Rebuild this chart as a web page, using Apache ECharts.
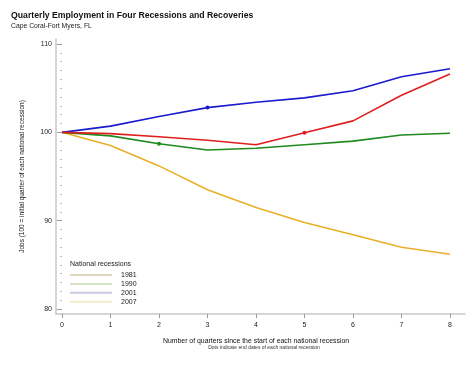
<!DOCTYPE html>
<html><head><meta charset="utf-8">
<script src="https://cdn.jsdelivr.net/npm/echarts@6/dist/echarts.min.js"></script>
<style>html,body{margin:0;padding:0;background:#fff}#c{width:475px;height:367px}</style>
</head><body><div id="c"></div>
<script>
var quarters = [0,1,2,3,4,5,6,7,8];
var seriesNames = ['1981','1990','2001','2007'];
var s1981 = [100, 98.5, 96.2, 93.5, 91.5, 89.8, 88.4, 87.0, 86.2];
var s1990 = [100, 99.6, 98.7, 98.0, 98.2, 98.6, 99.0, 99.7, 99.9];
var s2001 = [100, 100.7, 101.8, 102.8, 103.4, 103.9, 104.7, 106.3, 107.2];
var s2007 = [100, 99.85, 99.5, 99.1, 98.6, 99.95, 101.3, 104.2, 106.6];
var endQuarter = [null, 2, 3, 5];
var yTicks = [80, 90, 100, 110];
var xTicks = [0,1,2,3,4,5,6,7,8];

var lineColors = ['#e8b028', '#1f8a1f', '#1a1ad0', '#e01e1e'];
var legendColors = ['#ddd5bd', '#d5e2c6', '#c9c9df', '#f1ecc9'];
var allVals = [s1981, s1990, s2001, s2007];
var font = 'Liberation Sans, Arial, sans-serif';

var series = allVals.map(function(vals, k){
  return {
    name: seriesNames[k], type: 'line', xAxisIndex: 0, yAxisIndex: 0,
    data: vals.map(function(v,i){
      var item = {value:[quarters[i], v]};
      if (endQuarter[k] === quarters[i]) { item.symbol='circle'; item.symbolSize=4; }
      else { item.symbol='none'; }
      return item;
    }),
    lineStyle: {color: lineColors[k], width: 1.6},
    itemStyle: {color: lineColors[k]},
    showSymbol: true, silent: true, animation: false, z: 3 + k
  };
});
series.push({type:'line', xAxisIndex:1, yAxisIndex:1, data:[], silent:true});

var chart = echarts.init(document.getElementById('c'), null, {renderer:'canvas'});
chart.setOption({
  animation: false,
  backgroundColor: '#fff',
  title: [
    {text: 'Quarterly Employment in Four Recessions and Recoveries', left: 6, top: 6,
     textStyle:{fontFamily:font, fontSize:8.7, fontWeight:'bold', color:'#111'}},
    {text: 'Cape Coral-Fort Myers, FL', left: 6, top: 17.5,
     textStyle:{fontFamily:font, fontSize:6.8, fontWeight:'normal', color:'#222'}},
    {text: 'National recessions', left: 65, top: 256,
     textStyle:{fontFamily:font, fontSize:7, fontWeight:'normal', color:'#222'}},
    {text: 'Dots indicate end dates of each national recession', left: 259, top: 340.5, textAlign:'center',
     textStyle:{fontFamily:font, fontSize:5, fontWeight:'normal', color:'#333'}}
  ],
  legend: {
    orient: 'vertical', left: 70, top: 271, padding: 0, itemGap: 0.9, itemWidth: 42, itemHeight: 2,
    icon: 'rect',
    textStyle: {fontFamily: font, fontSize: 7, lineHeight: 8, color: '#222', padding:[0,0,0,4]},
    data: seriesNames.map(function(n,k){ return {name:n, icon:'rect', itemStyle:{color:legendColors[k]}}; })
  },
  grid: [
    {left: 62, right: 25, top: 44, bottom: 58},
    {left: 56, right: 10, top: 39, bottom: 53}
  ],
  xAxis: [
    {type:'value', gridIndex:0, min:0, max:8, interval:1,
     axisLine:{show:false}, axisTick:{show:true, length:4, lineStyle:{color:'#999'}},
     offset: 5,
     axisLabel:{fontFamily:font, fontSize:7, color:'#222', margin:8},
     splitLine:{show:false},
     name:'Number of quarters since the start of each national recession', nameLocation:'middle', nameGap:24,
     nameTextStyle:{fontFamily:font, fontSize:6.9, color:'#111'}},
    {type:'value', gridIndex:1, min:0, max:1, axisLine:{show:true, lineStyle:{color:'#c8c8c8', width:1.5}},
     axisTick:{show:false}, axisLabel:{show:false}, splitLine:{show:false}}
  ],
  yAxis: [
    {type:'value', gridIndex:0, min:80, max:110, interval:10,
     axisLine:{show:false}, offset: 6,
     axisTick:{show:true, length:5, lineStyle:{color:'#999'}},
     minorTick:{show:true, splitNumber:10, length:2, lineStyle:{color:'#bbb'}},
     axisLabel:{fontFamily:font, fontSize:7, color:'#222', margin:4},
     splitLine:{show:false},
     name:'Jobs (100 = initial quarter of each national recession)', nameLocation:'middle', nameGap:30,
     nameTextStyle:{fontFamily:font, fontSize:6.5, color:'#111'}},
    {type:'value', gridIndex:1, min:0, max:1, axisLine:{show:true, lineStyle:{color:'#c8c8c8', width:1.5}},
     axisTick:{show:false}, axisLabel:{show:false}, splitLine:{show:false}}
  ],
  series: series
});
</script>
</body></html>
